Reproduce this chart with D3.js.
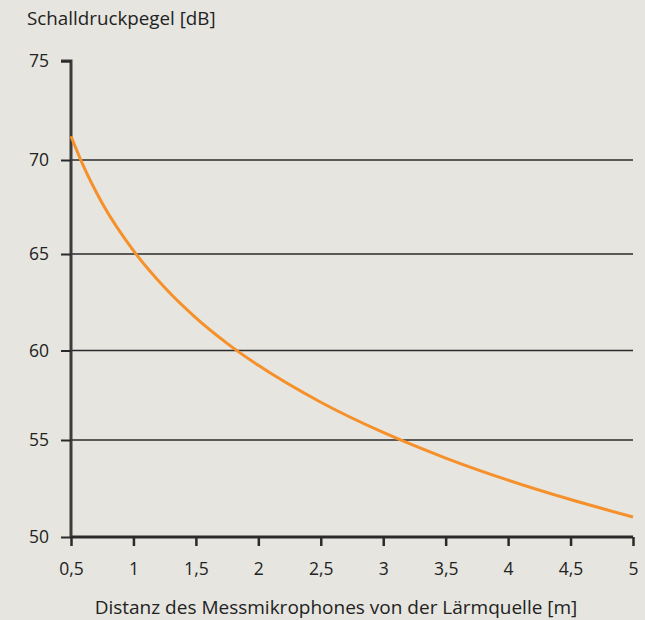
<!DOCTYPE html>
<html><head><meta charset="utf-8">
<script src="https://cdn.jsdelivr.net/npm/d3@7"></script>
<style>
html,body{margin:0;padding:0;background:#e6e5df;}
svg{display:block;}
text{font-family:"Open Sans","Noto Sans",sans-serif;fill:#222;}
</style></head><body>
<svg id="c" width="645" height="620"></svg>
<script>
const distance = [0.5, 0.6, 0.75, 1, 1.25, 1.5, 1.75, 2, 2.5, 3, 3.5, 4, 4.5, 5];
const levelDb  = [71.2, 69.67, 67.7, 65.18, 63.26, 61.69, 60.37, 59.17, 57.11, 55.42, 54.07, 52.93, 51.93, 51.03];
const xTicks = [0.5, 1, 1.5, 2, 2.5, 3, 3.5, 4, 4.5, 5];
const yTicks = [50, 55, 60, 65, 70, 75];
const yTitle = "Schalldruckpegel [dB]";
const xTitle = "Distanz des Messmikrophones von der Lärmquelle [m]";

const svg = d3.select("#c");
svg.append("rect").attr("width",645).attr("height",620).attr("fill","#e6e5df");

const x = d3.scaleLinear().domain([0.5,5]).range([71,633]);
const y = d3.scaleLinear().domain(yTicks).range([537,440,350.5,254,160,61]);
const fmt = d => String(d).replace(".", ",");

// gridlines
svg.append("g").selectAll("line").data(yTicks.filter(t=>t>50 && t<75)).join("line")
  .attr("x1",x(0.5)).attr("x2",x(5)).attr("y1",d=>y(d)).attr("y2",d=>y(d))
  .attr("stroke","#2a2a2a").attr("stroke-width",1.5);

// y axis
const ya = svg.append("g").attr("transform",`translate(${x(0.5)},0)`)
  .call(d3.axisLeft(y).tickValues(yTicks).tickSize(10).tickPadding(12).tickFormat(fmt));
ya.select(".domain").attr("stroke","#3c3c3c").attr("stroke-width",3).attr("d",`M-10,${y(75)}H0V${y(50)}`);
ya.selectAll(".tick line").attr("stroke","#2a2a2a").attr("stroke-width",2);
ya.selectAll(".tick text").attr("font-size",17.5).attr("fill","#222").attr("font-family","'Open Sans',sans-serif");

// x axis
const xa = svg.append("g").attr("transform",`translate(0,${y(50)})`)
  .call(d3.axisBottom(x).tickValues(xTicks).tickSize(9).tickPadding(17).tickFormat(fmt));
xa.select(".domain").attr("stroke","#2a2a2a").attr("stroke-width",3).attr("d",`M${x(0.5)},0H${x(5)}`);
xa.selectAll(".tick line").attr("stroke","#2a2a2a").attr("stroke-width",2.5);
xa.selectAll(".tick text").attr("font-size",17.5).attr("fill","#222").attr("font-family","'Open Sans',sans-serif");

// curve
const pts = distance.map((d,i)=>[d,levelDb[i]]);
svg.append("path").datum(pts)
  .attr("fill","none").attr("stroke","#f5902a").attr("stroke-width",3)
  .attr("d", d3.line().x(d=>x(d[0])).y(d=>y(d[1])).curve(d3.curveMonotoneX));

// titles
svg.append("text").attr("x",27).attr("y",25).attr("font-size",18.8).text(yTitle);
svg.append("text").attr("x",336).attr("y",614).attr("text-anchor","middle").attr("font-size",19).text(xTitle);
</script>
</body></html>
